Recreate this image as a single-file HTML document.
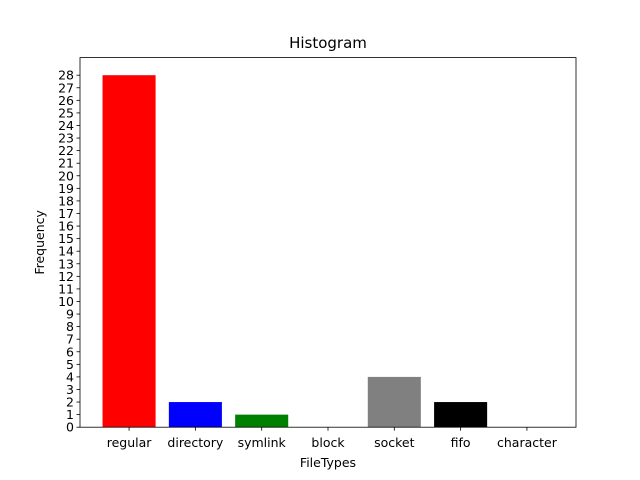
<!DOCTYPE html>
<html><head><meta charset="utf-8">
<style>
html,body{margin:0;padding:0;background:#fff;}
svg{display:block;font-family:"DejaVu Sans","Liberation Sans",sans-serif;}
</style></head>
<body>
<svg id="chart" width="640" height="480" viewBox="0 0 640 480"></svg>
<script>
const categories = ["regular","directory","symlink","block","socket","fifo","character"];
const values = [28,2,1,0,4,2,0];
const colors = ["red","blue","green","white","gray","black","white"];
const yTicks = [0,1,2,3,4,5,6,7,8,9,10,11,12,13,14,15,16,17,18,19,20,21,22,23,24,25,26,27,28];

const svg = document.getElementById('chart');
const NS = "http://www.w3.org/2000/svg";
const L=80, R=576, T=57.6, B=427.2;
const yMax = Math.max(...values)*1.05;
const barW = 0.8;
const xMin = -barW/2, xMaxV = categories.length-1+barW/2;
const mx = (xMaxV-xMin)*0.05;
const x0 = xMin-mx, x1 = xMaxV+mx;
const xs = v => L + (v-x0)/(x1-x0)*(R-L);
const ys = v => B - v/yMax*(B-T);

function mk(tag, attrs){const e=document.createElementNS(NS,tag);for(const k in attrs)e.setAttribute(k,attrs[k]);svg.appendChild(e);return e;}

values.forEach((v,i)=>{
  const r = mk('rect',{x:xs(i-barW/2),y:ys(v),width:xs(i+barW/2)-xs(i-barW/2),height:B-ys(v),fill:colors[i]});
  
  
  const tk = mk('line',{x1:xs(i),x2:xs(i),y1:B,y2:B+3.5,stroke:'#000','stroke-width':0.8});
  
  
  const t = mk('text',{x:xs(i),y:B+20,'text-anchor':'middle','font-size':12.5,fill:'#000'});
  t.textContent = categories[i];
  
  
});
yTicks.forEach(v=>{
  const tk = mk('line',{x1:L-3.5,x2:L,y1:ys(v),y2:ys(v),stroke:'#000','stroke-width':0.8});
  
  
  const t = mk('text',{x:L-6,y:ys(v)+4.5,'text-anchor':'end','font-size':12.5,fill:'#000'});
  t.textContent = v;
  
  
});
const frame = mk('rect',{x:L,y:T,width:R-L,height:B-T,fill:'none',stroke:'#000','stroke-width':0.8});


const title = mk('text',{x:(L+R)/2,y:48,'text-anchor':'middle','font-size':15,fill:'#000'});
title.textContent='Histogram';


const xl = mk('text',{x:(L+R)/2,y:467,'text-anchor':'middle','font-size':12.5,fill:'#000'});
xl.textContent='FileTypes';


const yl = mk('text',{x:0,y:0,'text-anchor':'middle','font-size':12.5,fill:'#000',transform:'translate(44,'+((T+B)/2)+') rotate(-90)'});
yl.textContent='Frequency';


</script>
</body></html>
